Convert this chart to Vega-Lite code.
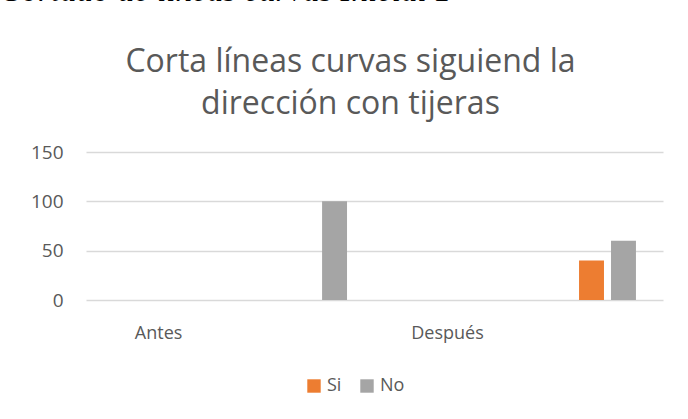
{
  "$schema": "https://vega.github.io/schema/vega-lite/v6.json",
  "width": 577,
  "height": 148,
  "autosize": {"type": "none"},
  "padding": {"left": 86, "top": 152, "right": 25, "bottom": 119},
  "background": "white",
  "title": {
    "text": ["Corta líneas curvas siguiend la", "dirección con tijeras"],
    "font": "Open Sans",
    "fontSize": 32,
    "fontWeight": "normal",
    "color": "#595959",
    "anchor": "middle",
    "dx": -24,
    "dy": 177,
    "offset": 30,
    "lineHeight": 42
  },
  "data": {
    "values": [
      {"momento": "Antes", "respuesta": "Si", "valor": 0},
      {"momento": "Antes", "respuesta": "No", "valor": 100},
      {"momento": "Después", "respuesta": "Si", "valor": 40},
      {"momento": "Después", "respuesta": "No", "valor": 60}
    ]
  },
  "mark": {"type": "bar"},
  "encoding": {
    "x": {
      "field": "momento",
      "type": "nominal",
      "sort": ["Antes", "Después"],
      "scale": {"paddingInner": 0.803, "paddingOuter": 0.4, "align": 0.883},
      "axis": {
        "title": null,
        "labelAngle": 0,
        "labelOffset": -160,
        "labelPadding": 24,
        "labelFont": "Open Sans",
        "labelFontSize": 18,
        "labelColor": "#595959",
        "ticks": false,
        "domain": false,
        "grid": false
      }
    },
    "xOffset": {
      "field": "respuesta",
      "type": "nominal",
      "sort": ["Si", "No"],
      "scale": {"paddingInner": 0.22, "paddingOuter": 0}
    },
    "y": {
      "field": "valor",
      "type": "quantitative",
      "scale": {"domain": [0, 150]},
      "axis": {
        "values": [0, 50, 100, 150],
        "title": "Cortado de líneas curvas Inicial 1",
        "titleAngle": 0,
        "titleAlign": "left",
        "titleBaseline": "alphabetic",
        "titleX": -87,
        "titleY": -152,
        "titleFont": "Liberation Serif",
        "titleFontStyle": "italic",
        "titleFontWeight": "normal",
        "titleFontSize": 33,
        "titleColor": "#000000",
        "labelFont": "Open Sans",
        "labelFontSize": 19,
        "labelColor": "#595959",
        "labelPadding": 23,
        "ticks": false,
        "domain": false,
        "gridColor": "#D9D9D9",
        "gridWidth": 1.3
      }
    },
    "color": {
      "field": "respuesta",
      "type": "nominal",
      "sort": ["Si", "No"],
      "scale": {"domain": ["Si", "No"], "range": ["#ED7D31", "#A5A5A5"]},
      "legend": {
        "title": null,
        "orient": "none",
        "legendX": 219,
        "legendY": 225,
        "direction": "horizontal",
        "symbolType": "square",
        "symbolSize": 180,
        "symbolStrokeWidth": 0,
        "symbolOpacity": 1,
        "labelFont": "Open Sans",
        "labelFontSize": 18,
        "labelColor": "#595959",
        "labelOffset": 4,
        "columnPadding": 16
      }
    }
  },
  "config": {
    "view": {"stroke": null}
  }
}
